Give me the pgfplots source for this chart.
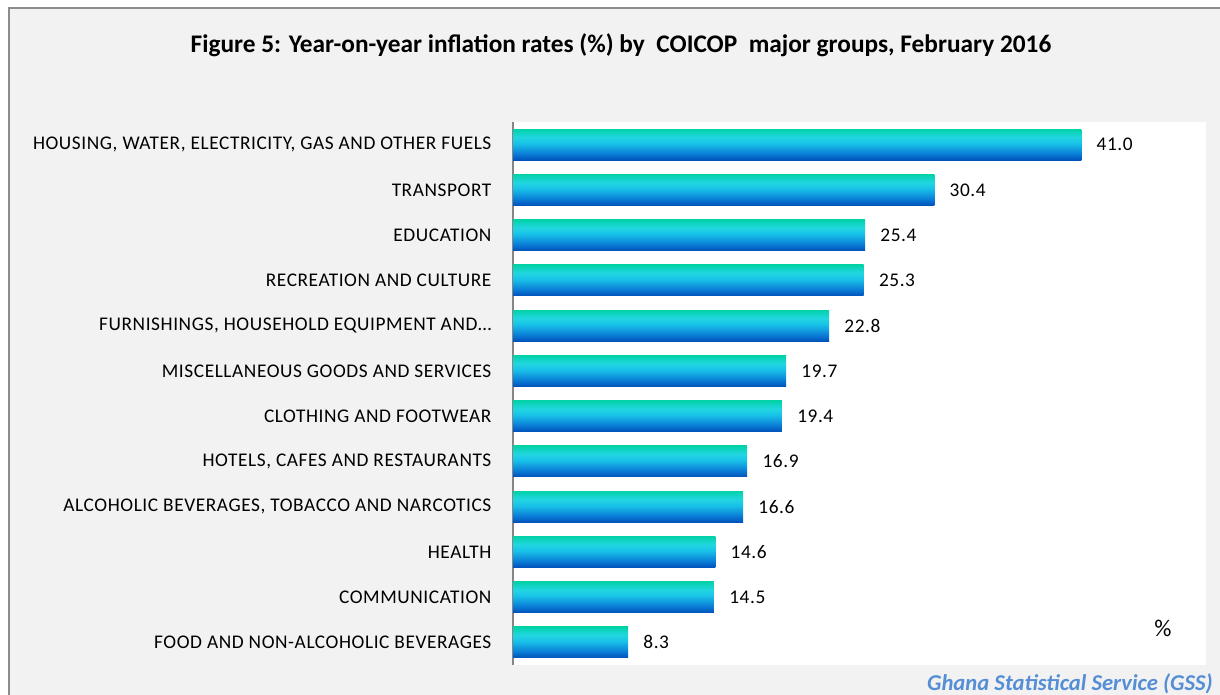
\documentclass[border=0pt]{standalone}
\usepackage{pgfplots}
\pgfplotsset{compat=1.18}
\usepackage{fontspec}
\setmainfont{Carlito}
\definecolor{bggray}{HTML}{F2F2F2}
\definecolor{bordergray}{HTML}{8C8C8C}
\definecolor{axisgray}{HTML}{868686}
\definecolor{bartop}{HTML}{02D2A8}
\definecolor{barcyan}{HTML}{22D6E0}
\definecolor{barmid}{HTML}{18C2E8}
\definecolor{barlow}{HTML}{0A7CD6}
\definecolor{barbot}{HTML}{0052BA}
\definecolor{srcblue}{HTML}{558ED5}
\pgfdeclareverticalshading{barshade}{100bp}{color(0bp)=(barbot); color(25bp)=(barbot); color(35bp)=(barlow); color(52bp)=(barmid); color(62bp)=(barcyan); color(75bp)=(bartop); color(100bp)=(bartop)}
\newcommand{\lblfont}{\fontsize{14.5}{17}\selectfont\addfontfeatures{LetterSpace=3}}
\begin{document}
\begin{tikzpicture}[x=1pt,y=1pt]
\path[use as bounding box] (0,0) rectangle (915,521.25);
\fill[white] (0,0) rectangle (915,521.25);
\fill[bggray] (6.75,-5) rectangle (920,515.25);
\draw[bordergray, line width=1.5pt] (6.75,-5) -- (6.75,515.25) -- (920,515.25);
\node[font=\bfseries\fontsize{19}{22}\selectfont] at (465.75,487) {Figure 5: Year-on-year inflation rates (\%) by\ \ COICOP\ \ major groups, February 2016};
\begin{axis}[
  at={(384.75pt,22.5pt)}, anchor=south west,
  scale only axis, width=519.75pt, height=407.25pt,
  xbar, bar shift=0pt, xmin=0, xmax=50, ymin=-0.5, ymax=11.5,
  bar width=23.25pt,
  axis background/.style={fill=white},
  axis x line=none,
  axis y line*=left,
  y axis line style={axisgray, line width=1.5pt, -},
  ytick={0,...,11},
  major tick length=0pt,
  yticklabels={{FOOD AND NON-ALCOHOLIC BEVERAGES},{COMMUNICATION},{HEALTH},{ALCOHOLIC BEVERAGES, TOBACCO AND NARCOTICS},{HOTELS, CAFES AND RESTAURANTS},{CLOTHING AND FOOTWEAR},{MISCELLANEOUS GOODS AND SERVICES},{FURNISHINGS, HOUSEHOLD EQUIPMENT AND…},{RECREATION AND CULTURE},{EDUCATION},{TRANSPORT},{HOUSING, WATER, ELECTRICITY, GAS AND OTHER FUELS}},
  yticklabel style={font=\lblfont, inner sep=0pt, anchor=east, xshift=-16pt},
  nodes near coords,
  nodes near coords style={font=\lblfont, text=black, anchor=west, xshift=8pt, /pgf/number format/.cd, fixed, fixed zerofill, precision=1, assume math mode=true},
  every axis plot/.append style={draw=none, shading=barshade},
  clip=false,
]
\addplot coordinates {(8.3,0)};
\addplot coordinates {(14.5,1)};
\addplot coordinates {(14.6,2)};
\addplot coordinates {(16.6,3)};
\addplot coordinates {(16.9,4)};
\addplot coordinates {(19.4,5)};
\addplot coordinates {(19.7,6)};
\addplot coordinates {(22.8,7)};
\addplot coordinates {(25.3,8)};
\addplot coordinates {(25.4,9)};
\addplot coordinates {(30.4,10)};
\addplot coordinates {(41.0,11)};
\end{axis}
\node[font=\fontsize{18}{21}\selectfont] at (872.25,50.25) {\%};
\node[font=\bfseries\itshape\fontsize{17}{20}\selectfont, text=srcblue, anchor=base east, inner sep=0pt] at (909.75,3.5) {Ghana Statistical Service (GSS)};
\end{tikzpicture}
\end{document}
